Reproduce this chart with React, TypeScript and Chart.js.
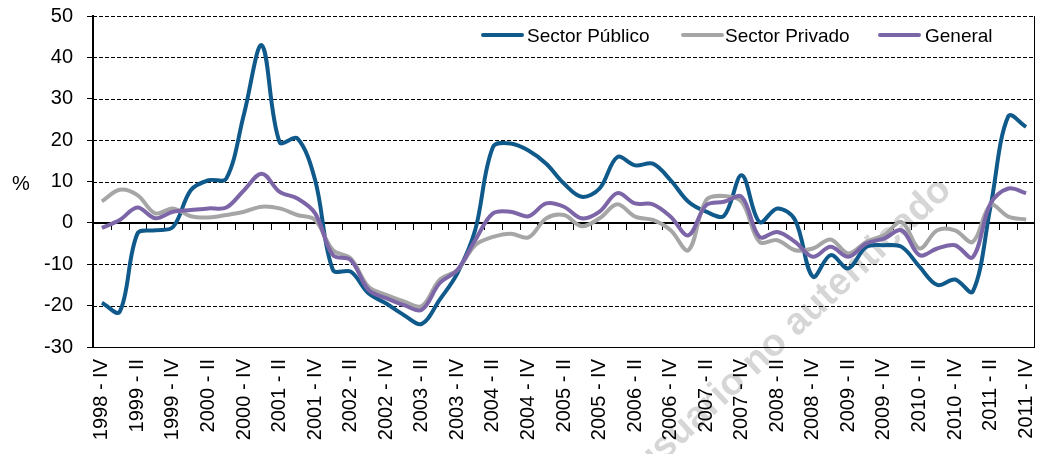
import React, { useEffect, useRef } from "react";
import { Chart, registerables } from "chart.js";

Chart.register(...registerables);

const quarters = [
  "1998 - IV",
  "1999 - I", "1999 - II", "1999 - III", "1999 - IV",
  "2000 - I", "2000 - II", "2000 - III", "2000 - IV",
  "2001 - I", "2001 - II", "2001 - III", "2001 - IV",
  "2002 - I", "2002 - II", "2002 - III", "2002 - IV",
  "2003 - I", "2003 - II", "2003 - III", "2003 - IV",
  "2004 - I", "2004 - II", "2004 - III", "2004 - IV",
  "2005 - I", "2005 - II", "2005 - III", "2005 - IV",
  "2006 - I", "2006 - II", "2006 - III", "2006 - IV",
  "2007 - I", "2007 - II", "2007 - III", "2007 - IV",
  "2008 - I", "2008 - II", "2008 - III", "2008 - IV",
  "2009 - I", "2009 - II", "2009 - III", "2009 - IV",
  "2010 - I", "2010 - II", "2010 - III", "2010 - IV",
  "2011 - I", "2011 - II", "2011 - III", "2011 - IV",
];

const sectorPublico = [
  -19.3, -21.5, -2.6, -1.8, -1.0, 7.9, 10.3, 10.7, 26.4, 42.9, 19.5, 20.4, 10.3,
  -11.4, -11.8, -17.0, -19.5, -22.3, -24.4, -18.6, -12.2, -1.8, 18.3, 19.2, 17.5, 14.3,
  9.5, 6.3, 8.3, 15.9, 13.9, 14.3, 10.3, 5.1, 2.7, 1.7, 11.5, 0.2, 3.5,
  0.7, -13.0, -7.8, -11.0, -5.8, -5.4, -5.8, -10.6, -15.0, -13.7, -16.6, 4.0, 25.8, 23.2,
];

const sectorPrivado = [
  5.2, 8.0, 6.7, 2.3, 3.5, 1.6, 1.3, 1.9, 2.7, 3.9, 3.5, 1.9, 0.7,
  -6.6, -8.6, -15.4, -17.4, -19.0, -20.1, -13.8, -11.4, -5.4, -3.4, -2.6, -3.5, 1.1,
  1.9, -0.8, 1.1, 4.5, 1.5, 0.7, -1.8, -6.6, 5.5, 6.5, 5.1, -4.6, -4.2,
  -6.6, -6.2, -4.0, -7.4, -4.6, -3.0, 0.2, -6.2, -1.8, -1.8, -4.6, 4.3, 1.5, 0.8,
];

const general = [
  -1.2, 0.7, 3.7, 1.1, 2.7, 3.1, 3.5, 3.7, 7.9, 11.9, 7.5, 5.9, 2.3,
  -7.8, -9.0, -16.2, -18.2, -19.9, -21.0, -14.6, -11.4, -4.2, 2.3, 2.7, 1.6, 4.7,
  3.9, 1.1, 2.7, 7.2, 4.7, 4.5, 1.5, -3.0, 4.3, 5.1, 6.3, -3.4, -2.2,
  -4.6, -8.2, -5.8, -8.2, -5.0, -3.8, -1.8, -7.8, -6.2, -5.4, -8.3, 4.7, 8.3, 7.2,
];

const seriesNames = ["Sector Público", "Sector Privado", "General"];
const seriesColors = ["#105A8B", "#A6A6A6", "#7D66A7"];
const yTicks = { min: -30, max: 50, step: 10 };
const yUnit = "%";
const watermarkText = "usuario no autenticado";

const FONT = 'Arial, "Liberation Sans", sans-serif';

const decorPlugin = {
  id: "decor",
  beforeDraw(chart: any) {
    const ctx = chart.ctx;
    ctx.save();
    ctx.translate(793, 327);
    ctx.rotate((-43 * Math.PI) / 180);
    ctx.font = `bold 38px ${FONT}`;
    ctx.fillStyle = "#d6d6d6";
    ctx.textAlign = "center";
    ctx.textBaseline = "middle";
    ctx.fillText(watermarkText, 0, 0);
    ctx.restore();

    ctx.save();
    ctx.font = `20px ${FONT}`;
    ctx.fillStyle = "#000";
    ctx.textAlign = "center";
    ctx.textBaseline = "middle";
    ctx.fillText(yUnit, 21, 184);
    ctx.restore();
  },
  beforeDatasetsDraw(chart: any) {
    const ctx = chart.ctx;
    const { left, right, top, bottom } = chart.chartArea;
    const y = chart.scales.y;
    const x = chart.scales.x;
    ctx.save();
    y.ticks.forEach((t: any) => {
      if (t.value === 0) return;
      const py = Math.round(y.getPixelForValue(t.value)) + 0.5;
      ctx.beginPath();
      ctx.lineWidth = 1;
      ctx.strokeStyle = "#000";
      ctx.setLineDash(t.value === yTicks.min ? [] : [4, 2]);
      ctx.moveTo(left, py);
      ctx.lineTo(right, py);
      ctx.stroke();
    });
    ctx.setLineDash([]);
    ctx.beginPath();
    ctx.lineWidth = 1;
    ctx.strokeStyle = "#000";
    ctx.moveTo(Math.round(right) - 0.5, top);
    ctx.lineTo(Math.round(right) - 0.5, bottom);
    ctx.stroke();
    const y0 = Math.round(y.getPixelForValue(0));
    ctx.beginPath();
    ctx.lineWidth = 2;
    ctx.moveTo(left, y0);
    ctx.lineTo(right, y0);
    ctx.stroke();
    const step = x.getPixelForValue(1) - x.getPixelForValue(0);
    ctx.lineWidth = 1;
    ctx.beginPath();
    for (let i = 1; i < quarters.length; i++) {
      const px = Math.round(x.getPixelForValue(i) - step / 2) + 0.5;
      ctx.moveTo(px, y0);
      ctx.lineTo(px, y0 + 7);
    }
    ctx.stroke();
    ctx.restore();
  },
};

export default function App() {
  const canvasRef = useRef<HTMLCanvasElement>(null);

  useEffect(() => {
    document.body.style.margin = "0";
    const canvas = canvasRef.current;
    if (!canvas) return;
    const values = [sectorPublico, sectorPrivado, general];
    const chart = new Chart(canvas, {
      type: "line",
      data: {
        labels: quarters,
        datasets: seriesNames.map((name, i) => ({
          label: name,
          data: values[i],
          borderColor: seriesColors[i],
          backgroundColor: seriesColors[i],
          borderWidth: 4,
          pointRadius: 0,
          tension: 0.35,
          fill: false,
          order: 2 - i,
        })),
      },
      options: {
        animation: false,
        responsive: false,
        maintainAspectRatio: false,
        layout: { padding: { top: 16, right: 5, left: 0, bottom: 0 } },
        plugins: {
          legend: { display: false },
          tooltip: { enabled: false },
        },
        scales: {
          x: {
            type: "category",
            offset: true,
            grid: { display: false, offset: true, drawTicks: false },
            border: { display: false },
            ticks: {
              autoSkip: false,
              maxRotation: 90,
              minRotation: 90,
              padding: 12,
              color: "#000",
              font: { family: FONT, size: 20 },
              callback: (_v: any, idx: number) => (idx % 2 === 0 ? quarters[idx] : ""),
            },
            afterFit: (s: any) => {
              s.height = 107;
              s.paddingLeft = 0;
              s.paddingRight = 0;
              s.paddingTop = 0;
              s.paddingBottom = 0;
            },
          },
          y: {
            min: yTicks.min,
            max: yTicks.max,
            grid: {
              drawOnChartArea: false,
              drawTicks: true,
              tickLength: 6,
              tickColor: "#000",
              tickWidth: 1,
            },
            border: { display: true, color: "#000", width: 2 },
            ticks: {
              stepSize: yTicks.step,
              padding: 14,
              color: "#000",
              font: { family: FONT, size: 20 },
            },
            afterFit: (s: any) => {
              s.width = 93;
              s.paddingLeft = 0;
              s.paddingRight = 0;
              s.paddingTop = 0;
              s.paddingBottom = 0;
            },
          },
        },
      },
      plugins: [decorPlugin],
    });
    return () => chart.destroy();
  }, []);

  const legendItems = [
    { left: 481, textLeft: 527 },
    { left: 681, textLeft: 725 },
    { left: 878, textLeft: 925 },
  ];

  return (
    <div style={{ position: "relative", width: 1040, height: 454, background: "#fff" }}>
      <canvas ref={canvasRef} width={1040} height={454} style={{ display: "block" }} />
      {seriesNames.map((name, i) => (
        <React.Fragment key={name}>
          <div
            style={{
              position: "absolute",
              left: legendItems[i].left,
              top: 33,
              width: 43,
              height: 4,
              background: seriesColors[i],
              borderRadius: 2,
            }}
          />
          <div
            style={{
              position: "absolute",
              left: legendItems[i].textLeft,
              top: 24,
              fontFamily: FONT,
              fontSize: 19,
              lineHeight: "24px",
              color: "#000",
              whiteSpace: "nowrap",
            }}
          >
            {name}
          </div>
        </React.Fragment>
      ))}
    </div>
  );
}
